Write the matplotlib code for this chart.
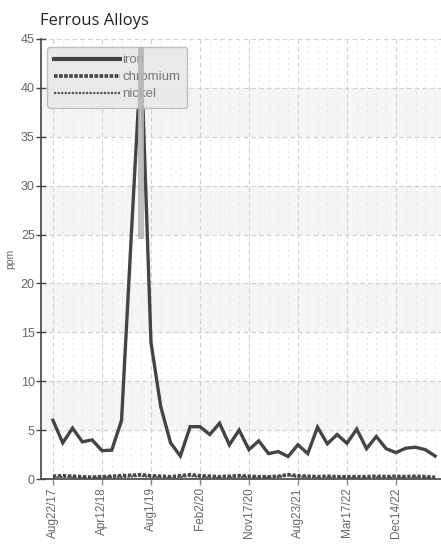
import matplotlib
matplotlib.use("Agg")
import matplotlib.pyplot as plt
from matplotlib.patches import Rectangle
from matplotlib.lines import Line2D
import numpy as np

tick_labels = ["Aug22/17", "Apr12/18", "Aug1/19", "Feb2/20", "Nov17/20",
               "Aug23/21", "Mar17/22", "Dec14/22"]
tick_index = [0, 5, 10, 15, 20, 25, 30, 35]

iron = [6.0, 3.7, 5.2, 3.8, 4.0, 2.9, 2.95, 6.0, 25.0, 43.5,
        14.0, 7.4, 3.7, 2.35, 5.35, 5.35, 4.55, 5.7, 3.5, 5.0,
        3.0, 3.9, 2.6, 2.8, 2.3, 3.5, 2.6, 5.3, 3.6, 4.55,
        3.65, 5.1, 3.1, 4.35, 3.1, 2.7, 3.15, 3.25, 3.0, 2.35]
chromium = [0.3, 0.35, 0.3, 0.25, 0.2, 0.25, 0.3, 0.35, 0.4, 0.45,
            0.35, 0.3, 0.25, 0.35, 0.45, 0.35, 0.3, 0.25, 0.3, 0.35,
            0.3, 0.25, 0.25, 0.3, 0.45, 0.35, 0.3, 0.25, 0.3, 0.25,
            0.25, 0.25, 0.25, 0.3, 0.25, 0.3, 0.25, 0.3, 0.25, 0.2]
nickel = [0.15, 0.2, 0.15, 0.1, 0.1, 0.15, 0.2, 0.2, 0.25, 0.3,
          0.2, 0.15, 0.1, 0.2, 0.3, 0.2, 0.15, 0.1, 0.15, 0.2,
          0.15, 0.1, 0.15, 0.2, 0.35, 0.2, 0.15, 0.1, 0.15, 0.1,
          0.1, 0.1, 0.1, 0.15, 0.1, 0.15, 0.1, 0.15, 0.1, 0.1]

narrow = ["Liberation Sans", "DejaVu Sans"]

fig = plt.figure(figsize=(4.41, 5.45), dpi=100)
ax = fig.add_axes([41/441, 66/545, 400/441, 440/545])

x = np.arange(len(iron))
ax.set_xlim(-1.22, 39.6)
ax.set_ylim(0, 45)

# alternating bands
for lo in [5, 15, 25, 35]:
    ax.axhspan(lo, lo + 5, color="#f5f5f5", zorder=0, lw=0)

# minor vertical grid
for xi in x:
    if xi not in tick_index:
        ax.axvline(xi, color="#e4e4e4", lw=0.6, ls=(0, (3, 4)), zorder=1)
# major grid
for xi in tick_index:
    ax.axvline(xi, color="#cfcfcf", lw=0.8, ls=(0, (4, 3)), zorder=1)
for yv in range(5, 46, 5):
    ax.axhline(yv, color="#cfcfcf", lw=0.8, ls=(0, (4, 3)), zorder=1)

ax.plot(x, nickel, color="#555555", lw=1.6, ls=(0, (1, 0.6)), zorder=3, label="nickel")
ax.plot(x, chromium, color="#444444", lw=2.4, ls=(0, (1, 0.5)), zorder=3, label="chromium")
ax.plot(x, iron, color="#444444", lw=2.4, zorder=4, label="iron", solid_joinstyle="miter")

handles = [Line2D([], [], color="#444444", lw=3.0),
           Line2D([], [], color="#444444", lw=2.6, ls=(0, (1, 0.4))),
           Line2D([], [], color="#555555", lw=1.6, ls=(0, (1, 0.6)))]
leg = ax.legend(handles, ["iron", "chromium", "nickel"], loc="upper left",
                bbox_to_anchor=(0.015, 0.982), frameon=True, fancybox=True,
                handlelength=5.0, handletextpad=0.15, labelspacing=0.36,
                borderpad=0.55, borderaxespad=0,
                prop={"family": narrow, "size": 9.5})
leg.get_frame().set_facecolor("#e9e9e9")
leg.get_frame().set_edgecolor("#bbbbbb")
leg.get_frame().set_alpha(0.95)
for t in leg.get_texts():
    t.set_color("#777777")

# highlight band at the peak
ax.add_patch(Rectangle((8.7, 24.5), 0.55, 19.7, facecolor="#b4b4b4",
                       edgecolor="none", alpha=0.85, zorder=6))

ax.set_xticks(tick_index)
ax.set_xticklabels(tick_labels, rotation=90, family=narrow, fontsize=8.5, color="#666666")
ax.set_yticks(range(0, 46, 5))
ax.set_yticklabels([str(v) for v in range(0, 46, 5)], family=narrow, fontsize=9, color="#666666")
ax.tick_params(axis="y", direction="inout", length=7, width=1, color="#444444", pad=1)
ax.tick_params(axis="x", direction="out", length=4, width=1, color="#888888", pad=2)

for s in ["top", "right"]:
    ax.spines[s].set_visible(False)
ax.spines["left"].set_color("#444444")
ax.spines["left"].set_linewidth(1.2)
ax.spines["bottom"].set_color("#444444")
ax.spines["bottom"].set_linewidth(1.2)

ax.set_ylabel("ppm", family=narrow, fontsize=7.5, color="#666666", labelpad=4)

fig.text(40/441, 1 - 25/545, "Ferrous Alloys", family=["Open Sans", "DejaVu Sans"],
         fontsize=12, color="#222222", ha="left", va="baseline")

fig.savefig("out.png", dpi=100)
